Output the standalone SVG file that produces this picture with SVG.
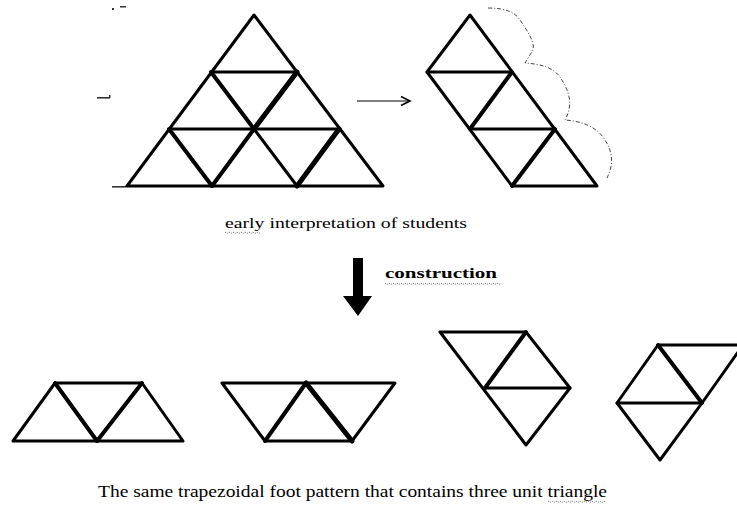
<svg xmlns="http://www.w3.org/2000/svg" width="737" height="507" viewBox="0 0 737 507">
<style>
.e{fill:none;stroke:#000;stroke-width:3;stroke-linecap:round;stroke-linejoin:round}
.t{stroke-width:4}
.tt{stroke-width:5}
.lbl{font-family:"Liberation Serif","Times New Roman",serif;fill:#000}
.wave{fill:none;stroke:#888;stroke-width:1;stroke-dasharray:1.5,1}
</style>
<defs>
<marker id="open" markerWidth="12" markerHeight="12" refX="10" refY="6" orient="auto" markerUnits="userSpaceOnUse">
<path d="M1,1.5 L10,6 L1,10.5" fill="none" stroke="#000" stroke-width="1.6"/>
</marker>
</defs>
<rect width="737" height="507" fill="#fff"/>

<g id="marks" fill="#333">
<rect x="112" y="8" width="2" height="2"/>
<rect x="120" y="6" width="6" height="1.5"/>
<rect x="97" y="97" width="13" height="1.6"/>
<rect x="109" y="95" width="1.5" height="3"/>
<rect x="112" y="186" width="14" height="1.6"/>
</g>

<g id="big-triangle">
<path class="e" d="M254,15 L127,186 L383,186 Z"/>
<path class="e" d="M211,72 L297,72"/>
<path class="e" d="M169,129 L339,129"/>
<path class="e t" d="M211,72 L254,129"/>
<path class="e tt" d="M297,72 L254,129"/>
<path class="e t" d="M169,129 L212,186"/>
<path class="e t" d="M254,129 L212,186"/>
<path class="e" d="M254,129 L297,186"/>
<path class="e tt" d="M339,129 L297,186"/>
</g>

<g id="strip">
<path class="e" d="M470,15 L427,72 L512,186 L597,186 Z"/>
<path class="e" d="M427,72 L512,72"/>
<path class="e t" d="M512,72 L470,129"/>
<path class="e" d="M470,129 L555,129"/>
<path class="e t" d="M555,129 L512,186"/>
</g>

<g id="connectors">
<path d="M357,101 L410,101" stroke="#555" stroke-width="1.6" fill="none" marker-end="url(#open)"/>
<path d="M488,8 C505,8 515,12 520,20 C528,32 535,42 533,50 L525,63 C540,64 553,67 560,77 C567,88 575,102 565,120 C580,121 595,126 603,137 C612,150 615,162 607,178" fill="none" stroke="#444" stroke-width="1" stroke-dasharray="4,2,1,2"/>
<path d="M353,258 H363 V296 H372 L358,316 L343,296 H353 Z" fill="#000"/>
</g>

<g id="label-early">
<text class="lbl" x="225" y="228" font-size="15" textLength="242" lengthAdjust="spacingAndGlyphs">early interpretation of students</text>
<path class="wave" d="M225,232 l2,1.5 l2,-1.5 l2,1.5 l2,-1.5 l2,1.5 l2,-1.5 l2,1.5 l2,-1.5 l2,1.5 l2,-1.5 l2,1.5 l2,-1.5 l2,1.5 l2,-1.5 l2,1.5 l2,-1.5 l2,1.5 l2,-1.5"/>
</g>

<g id="label-construction">
<text class="lbl" x="385" y="278" font-size="14" font-weight="bold" textLength="112" lengthAdjust="spacingAndGlyphs">construction</text>
<path class="wave" d="M385,283 l2,1.5 l2,-1.5 l2,1.5 l2,-1.5 l2,1.5 l2,-1.5 l2,1.5 l2,-1.5 l2,1.5 l2,-1.5 l2,1.5 l2,-1.5 l2,1.5 l2,-1.5 l2,1.5 l2,-1.5 l2,1.5 l2,-1.5 l2,1.5 l2,-1.5 l2,1.5 l2,-1.5 l2,1.5 l2,-1.5 l2,1.5 l2,-1.5 l2,1.5 l2,-1.5 l2,1.5 l2,-1.5 l2,1.5 l2,-1.5 l2,1.5 l2,-1.5 l2,1.5 l2,-1.5 l2,1.5 l2,-1.5 l2,1.5 l2,-1.5 l2,1.5 l2,-1.5 l2,1.5 l2,-1.5 l2,1.5 l2,-1.5 l2,1.5 l2,-1.5 l2,1.5 l2,-1.5 l2,1.5 l2,-1.5 l2,1.5 l2,-1.5 l2,1.5 l2,-1.5 l2,1.5 l2,-1.5"/>
</g>

<g id="shape1">
<path class="e" d="M13,441 L55,383 L142,383 L183,441 Z"/>
<path class="e t" d="M55,383 L97,441"/>
<path class="e t" d="M142,383 L97,441"/>
</g>

<g id="shape2">
<path class="e" d="M222,383 L395,383 L352,441 L265,441 Z"/>
<path class="e t" d="M306,383 L265,441"/>
<path class="e tt" d="M306,383 L352,441"/>
</g>

<g id="shape3">
<path class="e" d="M440,332 L526,332 L570,388 L526,445 Z"/>
<path class="e t" d="M526,332 L485,388"/>
<path class="e" d="M485,388 L570,388"/>
</g>

<g id="shape4">
<path class="e" d="M658,345 L743,345 L702,403 L660,460 L617,403 Z"/>
<path class="e t" d="M658,345 L702,403"/>
<path class="e" d="M617,403 L702,403"/>
</g>

<g id="label-caption">
<text class="lbl" x="98" y="497" font-size="16" textLength="509" lengthAdjust="spacingAndGlyphs">The same trapezoidal foot pattern that contains three unit triangle</text>
<path class="wave" d="M548,501 l2,1.5 l2,-1.5 l2,1.5 l2,-1.5 l2,1.5 l2,-1.5 l2,1.5 l2,-1.5 l2,1.5 l2,-1.5 l2,1.5 l2,-1.5 l2,1.5 l2,-1.5 l2,1.5 l2,-1.5 l2,1.5 l2,-1.5 l2,1.5 l2,-1.5 l2,1.5 l2,-1.5 l2,1.5 l2,-1.5 l2,1.5 l2,-1.5 l2,1.5 l2,-1.5 l2,1.5"/>
</g>
</svg>
